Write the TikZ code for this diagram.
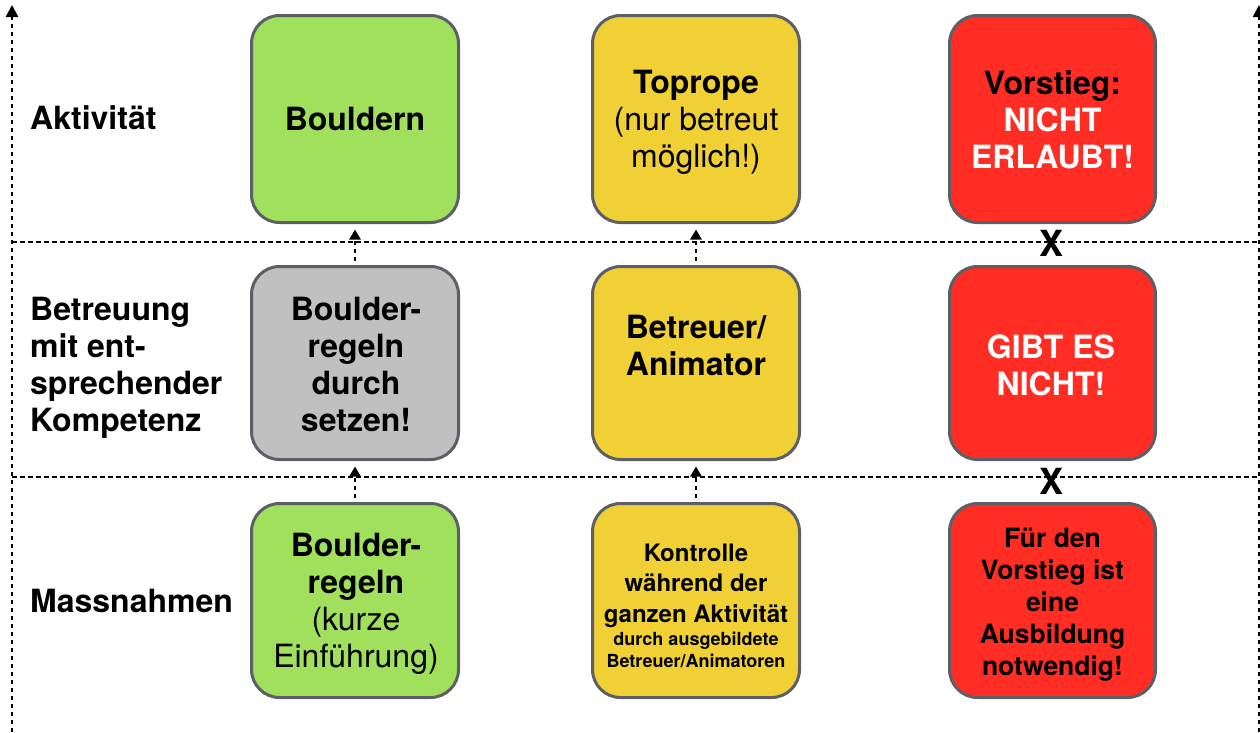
\documentclass[tikz,border=0pt]{standalone}
\usepackage{fontspec}
\setmainfont{TeX Gyre Heros}
\usetikzlibrary{arrows.meta}
\definecolor{cgreen}{RGB}{160,224,92}
\definecolor{cyellow}{RGB}{240,208,52}
\definecolor{cred}{RGB}{255,45,35}
\definecolor{cgray}{RGB}{192,192,192}
\definecolor{cborder}{RGB}{92,96,102}
\begin{document}
\begin{tikzpicture}[x=1pt,y=-1pt,
  box/.style={draw=cborder, line width=3pt, rounded corners=28pt, inner sep=0pt},
  rowa/.style={minimum height=207pt},
  rowb/.style={minimum height=193pt},
  rowc/.style={minimum height=194pt},
  cola/.style={minimum width=207pt},
  colc/.style={minimum width=206pt},
  txt/.style={align=center, inner sep=0pt, font=\fontsize{32}{37}\selectfont},
  lab/.style={align=left, inner sep=0pt, anchor=west, font=\bfseries\fontsize{32}{37}\selectfont},
  dotline/.style={line width=2.6pt, dash pattern=on 4.5pt off 3.5pt},
  axis/.style={dotline, -{Triangle[width=12pt,length=12pt]}},
  linkarr/.style={dotline, -{Triangle[width=11pt,length=10pt]}, shorten >=5.5pt, shorten <=4pt},
  xmark/.style={inner sep=0pt, font=\bfseries\fontsize{36}{40}\selectfont}
]
\useasboundingbox (0,0) rectangle (1260,732);

% axes and separators
\coordinate (la0) at (12,732);
\coordinate (la1) at (12,5);
\coordinate (ra0) at (1259,732);
\coordinate (ra1) at (1259,5);
\coordinate (h1a) at (12,242);
\coordinate (h1b) at (1259,242);
\coordinate (h2a) at (12,477);
\coordinate (h2b) at (1259,477);
\draw[axis] (la0) -- (la1);
\draw[axis] (ra0) -- (ra1);
\draw[dotline] (h1a) -- (h1b);
\draw[dotline] (h2a) -- (h2b);

% row labels
\node[lab] (lakt) at (30,118) {Aktivität};
\node[lab] (lbet) at (30,367.5) {Betreuung\\mit ent-\\sprechender\\Kompetenz};
\node[lab] (lmas) at (30,601) {Massnahmen};

% boxes
\node[box, cola, rowa, fill=cgreen]  (b11) at (355,119) {};
\node[box, cola, rowa, fill=cyellow] (b12) at (696,119) {};
\node[box, colc, rowa, fill=cred]    (b13) at (1052.5,119) {};
\node[box, cola, rowb, fill=cgray]   (b21) at (355,363) {};
\node[box, cola, rowb, fill=cyellow] (b22) at (696,363) {};
\node[box, colc, rowb, fill=cred]    (b23) at (1052.5,363) {};
\node[box, cola, rowc, fill=cgreen]  (b31) at (355,600.5) {};
\node[box, cola, rowc, fill=cyellow] (b32) at (696,600.5) {};
\node[box, colc, rowc, fill=cred]    (b33) at (1052.5,600.5) {};

% box texts
\node[txt] (t11) at (355,119) {\bfseries Bouldern};
\node[txt] (t12) at (696,122) {\bfseries Toprope\\(nur betreut\\möglich!)};
\node[txt] (t13) at (1052.5,120) {\bfseries Vorstieg:\\\color{white}\bfseries NICHT\\\color{white}\bfseries ERLAUBT!};
\node[txt] (t21) at (356,364) {\bfseries Boulder-\\\bfseries regeln\\\bfseries durch\\\bfseries setzen!};
\node[txt] (t22) at (696,345) {\bfseries Betreuer/\\\bfseries Animator};
\node[txt, text=white] (t23) at (1051,365) {\bfseries GIBT ES\\\bfseries NICHT!};
\node[txt] (t31) at (356,604) {\bfseries Boulder-\\\bfseries regeln\\(kurze\\Einführung)};
\node[txt, font=\bfseries\fontsize{24}{30.5}\selectfont] (t32) at (696,605.5)
  {Kontrolle\\während der\\ganzen Aktivität\\[-7.5pt]\fontsize{18}{22}\selectfont durch ausgebildete\\[-8.5pt]\fontsize{18}{22}\selectfont Betreuer/Animatoren};
\node[txt, font=\bfseries\fontsize{26.5}{32}\selectfont] (t33) at (1052.5,605)
  {Für den\\Vorstieg ist\\eine\\Ausbildung\\notwendig!};

% links
\draw[linkarr] (b21.north) -- (b11.south);
\draw[linkarr] (b22.north) -- (b12.south);
\draw[linkarr] (b31.north) -- (b21.south);
\draw[linkarr] (b32.north) -- (b22.south);

% blocked links
\node[xmark] (x1) at (1051,243) {X};
\node[xmark] (x2) at (1051,481) {X};
\end{tikzpicture}
\end{document}
